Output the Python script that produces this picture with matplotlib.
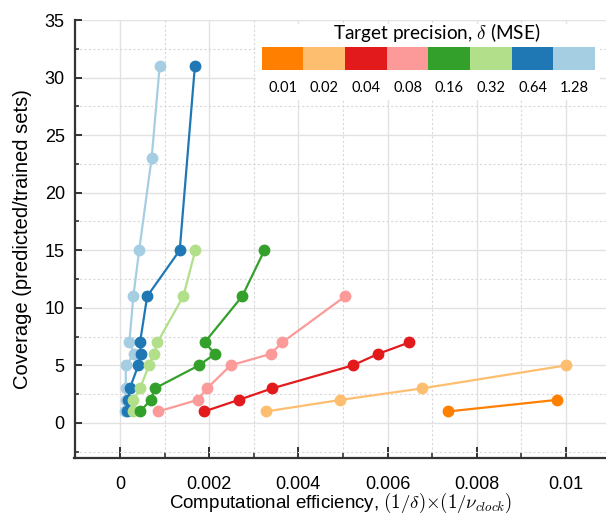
import numpy as np
import matplotlib
matplotlib.use("Agg")
import matplotlib.pyplot as plt
from matplotlib.ticker import MultipleLocator, FixedLocator

plt.rcParams['font.family'] = ['Liberation Sans', 'DejaVu Sans']
plt.rcParams['mathtext.fontset'] = 'cm'

# target precision (MSE) and colours
delta_lbl = ["0.01", "0.02", "0.04", "0.08", "0.16", "0.32", "0.64", "1.28"]
colors = ["#ff7f00", "#fdbf6f", "#e31a1c", "#fb9a99",
          "#33a02c", "#b2df8a", "#1f78b4", "#a6cee3"]

# efficiency (x) vs coverage (y), one series per delta
eff_001 = [0.00736, 0.00979]
cov_001 = [1, 2]
eff_002 = [0.00328, 0.00494, 0.00677, 0.01000]
cov_002 = [1, 2, 3, 5]
eff_004 = [0.00189, 0.00266, 0.00341, 0.00522, 0.00579, 0.00649]
cov_004 = [1, 2, 3, 5, 6, 7]
eff_008 = [0.00086, 0.00174, 0.00195, 0.00248, 0.00338, 0.00364, 0.00505]
cov_008 = [1, 2, 3, 5, 6, 7, 11]
eff_016 = [0.00045, 0.00069, 0.00078, 0.00177, 0.00213, 0.00190, 0.00274, 0.00324]
cov_016 = [1, 2, 3, 5, 6, 7, 11, 15]
eff_032 = [0.00030, 0.00030, 0.00045, 0.00065, 0.00076, 0.00084, 0.00142, 0.00169]
cov_032 = [1, 2, 3, 5, 6, 7, 11, 15]
eff_064 = [0.00015, 0.00019, 0.00022, 0.00041, 0.00047, 0.00045, 0.00061, 0.00134, 0.00168]
cov_064 = [1, 2, 3, 5, 6, 7, 11, 15, 31]
eff_128 = [0.00012, 0.00013, 0.00013, 0.00013, 0.00032, 0.00021, 0.00030, 0.00043, 0.00071, 0.00089]
cov_128 = [1, 2, 3, 5, 6, 7, 11, 15, 23, 31]

series = [(eff_001, cov_001), (eff_002, cov_002), (eff_004, cov_004), (eff_008, cov_008),
          (eff_016, cov_016), (eff_032, cov_032), (eff_064, cov_064), (eff_128, cov_128)]

xticks = [0, 0.002, 0.004, 0.006, 0.008, 0.01]
xtick_lbl = ["0", "0.002", "0.004", "0.006", "0.008", "0.01"]

fig = plt.figure(figsize=(6.06, 5.16), dpi=100)
ax = fig.add_axes([74.5 / 606, 58.5 / 516, 1 - 74.5 / 606, (457.5 - 20) / 516])

# draw from 1.28 down to 0.01 so darker shades sit on top
for i in reversed(range(len(series))):
    x, y = series[i]
    ax.plot(x, y, '-o', color=colors[i], lw=1.6, ms=7.5, zorder=3 + (7 - i))

ax.set_xlim(-0.00102, 0.0109)
ax.set_ylim(-3, 35)
ax.xaxis.set_major_locator(FixedLocator(xticks))
ax.set_xticklabels(xtick_lbl)
ax.xaxis.set_minor_locator(MultipleLocator(0.001))
ax.yaxis.set_major_locator(MultipleLocator(5))
ax.yaxis.set_minor_locator(MultipleLocator(2.5))

ax.grid(which='major', color='#e2e2e2', lw=1.0, ls='-', zorder=0)
ax.grid(which='minor', color='#d8d8d8', lw=0.8, ls=(0, (2, 2)), zorder=0)
ax.set_axisbelow(True)

for s in ['top', 'right']:
    ax.spines[s].set_visible(False)
for s in ['left', 'bottom']:
    ax.spines[s].set_linewidth(1.6)
    ax.spines[s].set_color('#333333')

ax.tick_params(axis='y', which='major', direction='in', length=5, width=1.4,
               color='#333333', labelsize=13, pad=7)
ax.tick_params(axis='y', which='minor', direction='in', length=3, width=1.2, color='#333333')
ax.tick_params(axis='x', which='major', direction='in', length=8, width=1.4,
               color='#333333', labelsize=13, pad=13)
ax.tick_params(axis='x', which='minor', direction='in', length=4, width=1.2, color='#333333')

ax.set_ylabel("Coverage (predicted/trained sets)", fontsize=14.5, labelpad=9)
ax.set_xlabel(r"Computational efficiency, $(1/\delta){\times}(1/\nu_{clock})$",
              fontsize=13.5, labelpad=-1)

# colour-block legend
lx0, lx1, ly0, ly1 = 256, 600, 24, 100
lax = fig.add_axes([lx0 / 606, 1 - ly1 / 516, (lx1 - lx0) / 606, (ly1 - ly0) / 516])
lax.set_facecolor('white')
lax.set_zorder(10)
for s in lax.spines.values():
    s.set_visible(False)
lax.set_xticks([])
lax.set_yticks([])
lax.set_xlim(-0.137, 8.12)
lax.set_ylim(ly1, ly0)
pos = np.arange(len(colors))
lax.bar(pos, 23.3, width=1.0, bottom=46.7, color=colors, align='edge')
for p, t in zip(pos, delta_lbl):
    lax.text(p + 0.5, 88, t, ha='center', va='center', fontsize=10.5,
             family=['Lato', 'DejaVu Sans'])
lax.text(4.2, 33, r"Target precision, $\delta$ (MSE)", ha='center', va='center',
         fontsize=13.7, family=['Lato', 'DejaVu Sans'])

fig.savefig("out.png", dpi=100)
